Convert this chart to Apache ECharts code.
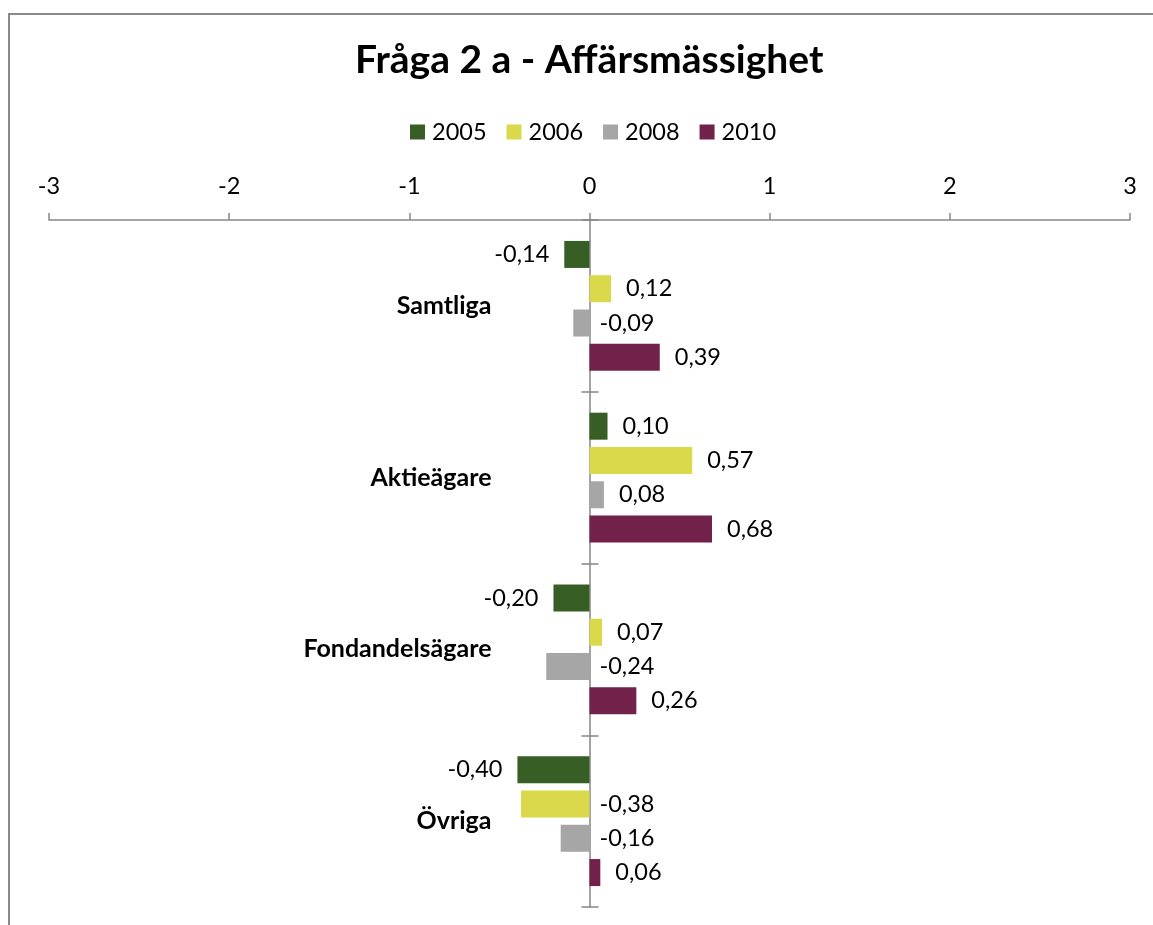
<!DOCTYPE html>
<html>
<head>
<meta charset="utf-8">
<script src="https://cdn.jsdelivr.net/npm/echarts@6/dist/echarts.min.js"></script>
<style>
  html, body { margin: 0; padding: 0; background: #fff; }
  #chart { width: 1153px; height: 925px; }
</style>
</head>
<body>
<div id="chart"></div>
<script>
const titleText = 'Fråga 2 a - Affärsmässighet';
const categories = ['Samtliga', 'Aktieägare', 'Fondandelsägare', 'Övriga'];
const seriesNames = ['2005', '2006', '2008', '2010'];
const values2005 = [-0.14, 0.10, -0.20, -0.40];
const values2006 = [0.12, 0.57, 0.07, -0.38];
const values2008 = [-0.09, 0.08, -0.24, -0.16];
const values2010 = [0.39, 0.68, 0.26, 0.06];
const xTicks = { min: -3, max: 3, interval: 1 };

const colors = ['#375E24', '#DAD84B', '#A6A6A6', '#71214A'];
const allValues = [values2005, values2006, values2008, values2010];
const FONT = 'Lato';

const GRID_LEFT = 49, GRID_RIGHT = 23;
const plotWidth = 1153 - GRID_LEFT - GRID_RIGHT;
// offset that moves the category axis onto the value 0
const zeroOffset = -plotWidth * (0 - xTicks.min) / (xTicks.max - xTicks.min);

function fmt(v) { return v.toFixed(2).replace('.', ','); }

const series = allValues.map((vals, si) => ({
  name: seriesNames[si],
  type: 'bar',
  barWidth: 27,
  barGap: '27%',
  itemStyle: { color: colors[si] },
  data: vals.map(v => {
    let pos = 'right', dist = 15;
    if (v < 0) {
      if (si === 0) { pos = 'left'; dist = 15; }
      else { pos = 'right'; dist = 10; }
    }
    return { value: v, label: { position: pos, distance: dist } };
  }),
  label: {
    show: true,
    fontFamily: FONT,
    fontSize: 23.5,
    color: '#000',
    formatter: p => fmt(p.value)
  }
}));

const chart = echarts.init(document.getElementById('chart'), null, { renderer: 'canvas' });
chart.setOption({
  animation: false,
  backgroundColor: '#fff',
  title: {
    text: titleText,
    left: 355,
    top: 41,
    padding: 0,
    textStyle: { fontFamily: FONT, fontSize: 39, fontWeight: 'bold', color: '#000' }
  },
  legend: {
    data: seriesNames,
    top: 120,
    left: 410,
    padding: 0,
    itemWidth: 15,
    itemHeight: 15,
    itemGap: 20,
    icon: 'rect',
    textStyle: { fontFamily: FONT, fontSize: 23.5, color: '#000', padding: [0, 0, 0, 2] }
  },
  grid: { left: GRID_LEFT, right: GRID_RIGHT, top: 220, bottom: 18, outerBoundsMode: 'none' },
  xAxis: {
    type: 'value',
    position: 'top',
    min: xTicks.min,
    max: xTicks.max,
    interval: xTicks.interval,
    splitLine: { show: false },
    axisLine: { show: true, onZero: false, lineStyle: { color: '#868686', width: 1.5 } },
    axisTick: { show: true, length: 7, lineStyle: { color: '#868686', width: 1.5 } },
    axisLabel: { margin: 22, fontFamily: FONT, fontSize: 23.5, color: '#000' }
  },
  yAxis: [{
    type: 'category',
    data: categories,
    inverse: true,
    position: 'left',
    offset: zeroOffset,
    axisLine: { show: true, onZero: false, lineStyle: { color: '#868686', width: 1.5 } },
    axisTick: { show: true, length: 8, lineStyle: { color: '#868686', width: 1.5 } },
    axisLabel: { margin: 98, fontFamily: FONT, fontSize: 25, fontWeight: 'bold', color: '#000' }
  }, {
    type: 'category',
    data: categories,
    inverse: true,
    position: 'right',
    offset: -(plotWidth + zeroOffset),
    axisLine: { show: false, onZero: false },
    axisTick: { show: true, length: 9, lineStyle: { color: '#868686', width: 1.5 } },
    axisLabel: { show: false }
  }],
  series: series,
  graphic: [{
    type: 'rect',
    shape: { x: 9, y: 14, width: 1400, height: 1200 },
    style: { fill: null, stroke: '#898989', lineWidth: 2 },
    silent: true,
    z: 100
  }]
});
</script>
</body>
</html>
